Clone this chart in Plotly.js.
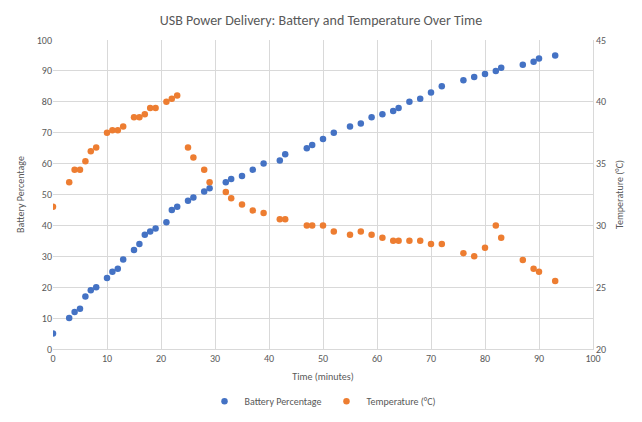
<!DOCTYPE html>
<html>
<head>
<meta charset="utf-8">
<script src="https://cdn.plot.ly/plotly-3.0.1.min.js"></script>
<style>body{margin:0;background:#fff}#chart{width:642px;height:422px}</style>
</head>
<body>
<div id="chart"></div>
<script>
let battery_time = [0,3,4,5,6,7,8,10,11,12,13,15,16,17,18,19,21,22,23,25,26,28,29,32,33,35,37,39,42,43,47,48,50,52,55,57,59,61,63,64,66,68,70,72,76,78,80,82,83,87,89,90,93];
let battery_values = [5,10,12,13,17,19,20,23,25,26,29,32,34,37,38,39,41,45,46,48,49,51,52,54,55,56,58,60,61,63,65,66,68,70,72,73,75,76,77,78,80,81,83,85,87,88,89,90,91,92,93,94,95];
let temp_time = [0,3,4,5,6,7,8,10,11,12,13,15,16,17,18,19,21,22,23,25,26,28,29,32,33,35,37,39,42,43,47,48,50,52,55,57,59,61,63,64,66,68,70,72,76,78,80,82,83,87,89,90,93];
let temp_values = [31.5,33.5,34.5,34.5,35.2,36,36.3,37.5,37.7,37.7,38,38.75,38.75,39,39.5,39.5,40,40.25,40.5,36.3,35.5,34.5,33.5,32.7,32.2,31.7,31.2,31,30.5,30.5,30,30,30,29.5,29.25,29.5,29.25,29,28.75,28.75,28.75,28.75,28.5,28.5,27.75,27.5,28.2,30,29,27.2,26.5,26.25,25.5];

let grid = '#d9d9d9';
let tickFont = {family: 'Calibri, Carlito, "Liberation Sans", sans-serif', size: 10, color: '#595959'};

let battery = {
    x: battery_time, y: battery_values, mode: 'markers', type: 'scatter',
    name: 'Battery Percentage',
    marker: {color: '#4472c4', size: 6.5}
};
let temperature = {
    x: temp_time, y: temp_values, mode: 'markers', type: 'scatter',
    name: 'Temperature (°C)', yaxis: 'y2',
    marker: {color: '#ed7d31', size: 6.5}
};

let layout = {
    width: 642, height: 422,
    margin: {l: 53, r: 49, t: 40, b: 73},
    paper_bgcolor: '#fff', plot_bgcolor: '#fff',
    font: tickFont,
    title: {text: 'USB Power Delivery: Battery and Temperature Over Time', x: 0.5, y: 0.965,
        font: {family: 'Calibri, Carlito, "Liberation Sans", sans-serif', size: 14, color: '#595959'}},
    xaxis: {range: [0, 100], dtick: 10, gridcolor: grid, zeroline: false, showline: true, linecolor: grid,
        ticks: '', title: {text: 'Time (minutes)', font: {size: 10, color: '#595959'}, standoff: 8}},
    yaxis: {range: [0, 100], dtick: 10, gridcolor: grid, zeroline: false, ticks: '',
        title: {text: 'Battery Percentage', font: {size: 10, color: '#595959'}, standoff: 10}},
    yaxis2: {range: [20, 45], dtick: 5, overlaying: 'y', side: 'right', showgrid: false, zeroline: false,
        showline: true, linecolor: grid, ticks: '',
        title: {text: 'Temperature (°C)', font: {size: 10, color: '#595959'}, standoff: 10}},
    legend: {orientation: 'h', x: 0.5, xanchor: 'center', yref: 'container', y: 0.015, yanchor: 'bottom',
        itemwidth: 30, tracegroupgap: 0, font: {size: 10, color: '#595959'}},
    showlegend: true
};

Plotly.newPlot('chart', [battery, temperature], layout, {displayModeBar: false});
</script>
</body>
</html>
